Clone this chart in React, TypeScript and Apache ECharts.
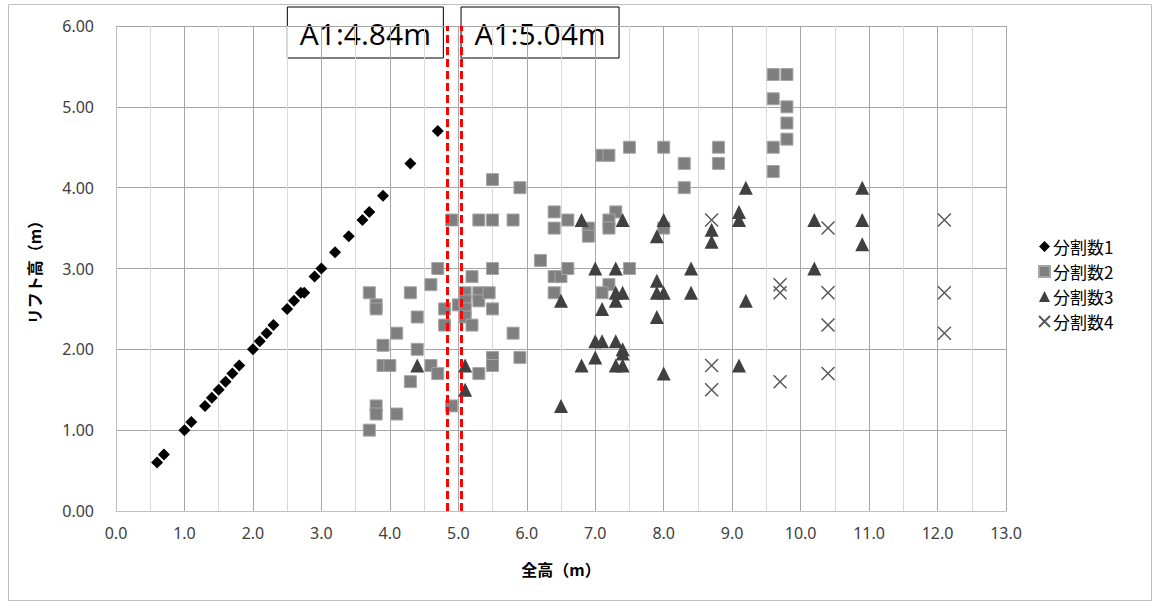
import React, { useEffect, useRef } from "react";
import * as echarts from "echarts";

const xTicks = [0, 13];
const yTicks = [0, 6];
const seriesNames = ["分割数1", "分割数2", "分割数3", "分割数4"];
const limitLines = [4.84, 5.04];
const limitLabels = ["A1:4.84m", "A1:5.04m"];

const div1: number[][] = [
  [0.6, 0.6], [0.7, 0.7], [1.0, 1.0], [1.1, 1.1], [1.3, 1.3], [1.4, 1.4], [1.5, 1.5],
  [1.6, 1.6], [1.7, 1.7], [1.8, 1.8], [2.0, 2.0], [2.1, 2.1], [2.2, 2.2], [2.3, 2.3],
  [2.5, 2.5], [2.6, 2.6], [2.7, 2.7], [2.75, 2.7], [2.9, 2.9], [3.0, 3.0], [3.2, 3.2],
  [3.4, 3.4], [3.6, 3.6], [3.7, 3.7], [3.9, 3.9], [4.3, 4.3], [4.7, 4.7],
];

const div2: number[][] = [
  [3.7, 1.0], [3.8, 1.3], [3.8, 1.2], [4.1, 1.2], [3.7, 2.7], [3.8, 2.55], [3.8, 2.5],
  [3.9, 2.05], [3.9, 1.8], [4.0, 1.8], [4.1, 2.2], [4.3, 2.7], [4.3, 1.6], [4.4, 2.0],
  [4.4, 2.4], [4.6, 1.8], [4.6, 2.8], [4.7, 3.0], [4.7, 1.7], [4.8, 2.5], [4.8, 2.3],
  [4.9, 3.6], [4.9, 1.3], [5.0, 2.55], [5.1, 2.7], [5.1, 2.6], [5.1, 2.5], [5.1, 2.4],
  [5.2, 2.9], [5.2, 2.3], [5.3, 2.7], [5.3, 2.6], [5.3, 1.7], [5.3, 3.6], [5.45, 2.7],
  [5.5, 3.6], [5.5, 4.1], [5.5, 3.0], [5.5, 2.5], [5.5, 1.9], [5.5, 1.8], [5.8, 3.6],
  [5.8, 2.2], [5.9, 4.0], [5.9, 1.9], [6.2, 3.1], [6.4, 3.7], [6.4, 3.5], [6.4, 2.9],
  [6.5, 2.9], [6.4, 2.7], [6.6, 3.6], [6.6, 3.0], [6.9, 3.5], [6.9, 3.4], [7.1, 4.4],
  [7.2, 4.4], [7.3, 3.7], [7.2, 3.6], [7.2, 3.5], [7.2, 2.8], [7.1, 2.7], [7.5, 4.5],
  [7.5, 3.0], [8.0, 4.5], [8.0, 3.5], [8.3, 4.3], [8.3, 4.0], [8.8, 4.5], [8.8, 4.3],
  [9.6, 5.4], [9.8, 5.4], [9.6, 5.1], [9.8, 5.0], [9.8, 4.8], [9.8, 4.6], [9.6, 4.5],
  [9.6, 4.2],
];

const div3: number[][] = [
  [4.4, 1.8], [5.1, 1.8], [5.1, 1.5], [6.5, 2.6], [6.5, 1.3], [6.8, 3.6], [6.8, 1.8],
  [7.0, 3.0], [7.0, 2.1], [7.0, 1.9], [7.1, 2.1], [7.1, 2.5], [7.3, 3.0], [7.3, 2.7],
  [7.3, 2.6], [7.3, 2.1], [7.3, 1.8], [7.4, 3.6], [7.4, 2.7], [7.4, 2.0], [7.4, 1.95],
  [7.4, 1.8], [7.9, 3.4], [7.9, 2.85], [7.9, 2.7], [7.9, 2.4], [8.0, 3.6], [8.0, 2.7],
  [8.0, 1.7], [8.4, 3.0], [8.4, 2.7], [8.7, 3.48], [8.7, 3.33], [9.1, 3.7], [9.1, 3.6],
  [9.1, 1.8], [9.2, 4.0], [9.2, 2.6], [10.2, 3.6], [10.2, 3.0], [10.9, 4.0], [10.9, 3.6],
  [10.9, 3.3],
];

const div4: number[][] = [
  [8.7, 3.6], [8.7, 1.8], [8.7, 1.5], [9.7, 2.8], [9.7, 2.7], [9.7, 1.6], [10.4, 3.5],
  [10.4, 2.7], [10.4, 2.3], [10.4, 1.7], [12.1, 3.6], [12.1, 2.7], [12.1, 2.2],
];

const FONT = "'Noto Sans CJK JP', 'Noto Sans', sans-serif";
const NUM_FONT = "'Noto Sans', 'Open Sans', sans-serif";

export default function App() {
  const ref = useRef<HTMLDivElement>(null);
  useEffect(() => {
    document.body.style.margin = "0";
    if (!ref.current) return;
    const chart = echarts.init(ref.current, null, { renderer: "svg" });
    const W = 1152;
    const gridLeft = 116;
    const gridRight = 146;
    const gridTop = 26;
    const gridBottom = 90;
    const plotW = W - gridLeft - gridRight;
    const xToPx = (v: number) => gridLeft + ((v - xTicks[0]) / (xTicks[1] - xTicks[0])) * plotW;
    const boxText = {
      fontSize: 30,
      fontFamily: "'Open Sans', 'Noto Sans', sans-serif",
      fill: "#000",
      textAlign: "center",
      textVerticalAlign: "middle",
    };

    chart.setOption({
      animation: false,
      backgroundColor: "#fff",
      textStyle: { fontFamily: FONT },
      grid: { left: gridLeft, right: gridRight, top: gridTop, bottom: gridBottom },
      legend: {
        orient: "vertical",
        left: 1033,
        top: 233,
        itemGap: 8,
        itemWidth: 11,
        itemHeight: 11,
        data: seriesNames,
        textStyle: { fontSize: 17, color: "#000", fontFamily: FONT, padding: [0, 0, 0, -2] },
      },
      xAxis: {
        type: "value",
        min: xTicks[0],
        max: xTicks[1],
        interval: 1,
        name: "全高（m）",
        nameLocation: "middle",
        nameGap: 50,
        nameTextStyle: { fontSize: 16, fontWeight: "bold", color: "#000", fontFamily: FONT },
        axisLine: { show: true, lineStyle: { color: "#bfbfbf" } },
        axisTick: { show: false },
        axisLabel: {
          formatter: (v: number) => v.toFixed(1),
          fontSize: 16,
          fontFamily: NUM_FONT,
          color: "#404040",
          margin: 14,
        },
        splitLine: { show: true, lineStyle: { color: "#a6a6a6", width: 1 } },
        minorTick: { show: false, splitNumber: 2 },
        minorSplitLine: { show: true, lineStyle: { color: "#d9d9d9", width: 1 } },
      },
      yAxis: {
        type: "value",
        min: yTicks[0],
        max: yTicks[1],
        interval: 1,
        name: "リフト高（m）",
        nameLocation: "middle",
        nameGap: 74,
        nameTextStyle: { fontSize: 16, fontWeight: "bold", color: "#000", fontFamily: FONT },
        axisLine: { show: true, lineStyle: { color: "#bfbfbf" } },
        axisTick: { show: false },
        axisLabel: {
          formatter: (v: number) => v.toFixed(2),
          fontSize: 16,
          fontFamily: NUM_FONT,
          color: "#404040",
          margin: 22,
        },
        splitLine: { show: true, lineStyle: { color: "#a6a6a6", width: 1 } },
      },
      series: [
        {
          name: seriesNames[0],
          type: "scatter",
          data: div1,
          symbol: "diamond",
          symbolSize: 12,
          itemStyle: { color: "#000", opacity: 1 },
          z: 5,
          markLine: {
            silent: true,
            symbol: "none",
            label: { show: false },
            lineStyle: { color: "#ff0000", type: [8, 4], width: 3, opacity: 1 },
            data: limitLines.map((v) => ({ xAxis: v })),
          },
        },
        {
          name: seriesNames[1],
          type: "scatter",
          data: div2,
          symbol: "rect",
          symbolSize: 12,
          itemStyle: { color: "#7f7f7f", borderColor: "#a6a6a6", borderWidth: 1, opacity: 1 },
          z: 3,
        },
        {
          name: seriesNames[2],
          type: "scatter",
          data: div3,
          symbol: "triangle",
          symbolSize: 14,
          itemStyle: { color: "#404040", opacity: 1 },
          z: 4,
        },
        {
          name: seriesNames[3],
          type: "scatter",
          data: div4,
          symbol: "path://M0,0L10,10M10,0L0,10",
          symbolSize: 13,
          itemStyle: { color: "transparent", borderColor: "#595959", borderWidth: 1.5, opacity: 1 },
          z: 4,
        },
      ],
      graphic: [
        {
          type: "rect",
          left: 6,
          top: 2,
          shape: { width: 1143, height: 596 },
          style: { fill: "none", stroke: "#bfbfbf", lineWidth: 1 },
          silent: true,
          z: -1,
        },
        {
          type: "group",
          x: xToPx(limitLines[0]) - 160,
          y: 7,
          z: 100,
          children: [
            {
              type: "rect",
              shape: { x: 0, y: 0, width: 156, height: 51 },
              style: { fill: "#fff", stroke: "#000", lineWidth: 1 },
            },
            { type: "text", x: 78, y: 26, style: { ...boxText, text: limitLabels[0] } },
          ],
        },
        {
          type: "group",
          x: xToPx(limitLines[1]),
          y: 7,
          z: 100,
          children: [
            {
              type: "rect",
              shape: { x: 0, y: 0, width: 158, height: 51 },
              style: { fill: "#fff", stroke: "#000", lineWidth: 1 },
            },
            { type: "text", x: 79, y: 26, style: { ...boxText, text: limitLabels[1] } },
          ],
        },
      ],
    });
    return () => chart.dispose();
  }, []);
  return <div ref={ref} style={{ width: 1152, height: 601 }} />;
}
